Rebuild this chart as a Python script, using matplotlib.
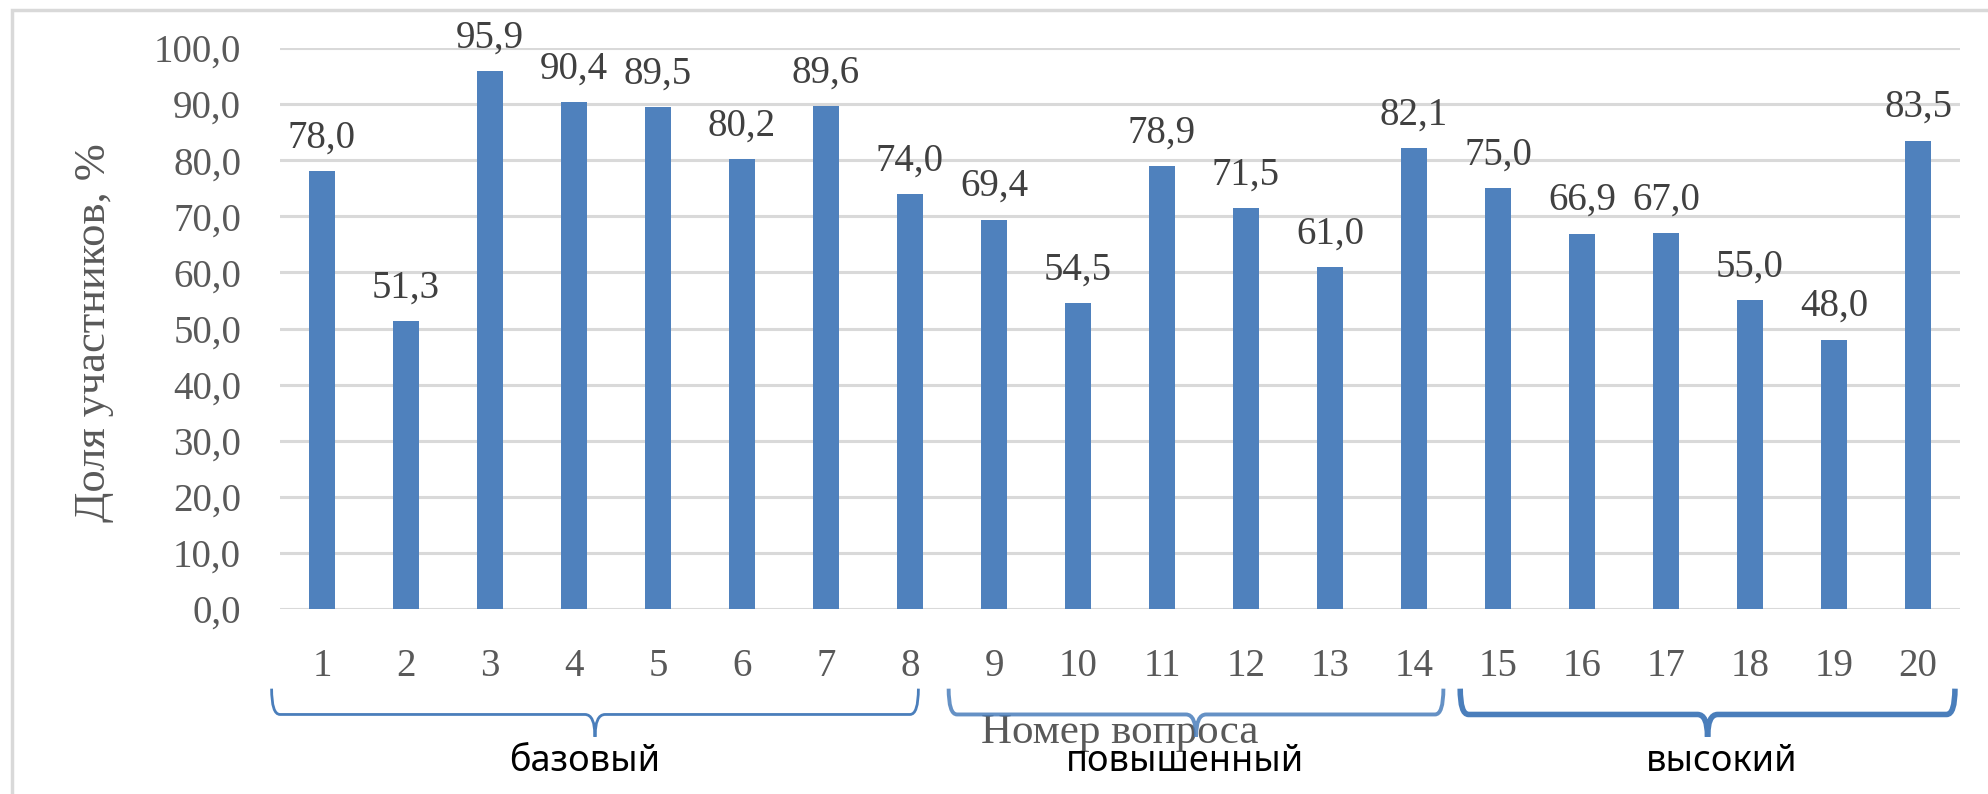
import numpy as np
import matplotlib
matplotlib.use("Agg")
import matplotlib.pyplot as plt
from matplotlib.path import Path
from matplotlib.patches import PathPatch, Rectangle

# question numbers and share of participants who solved them
questions = [str(i) for i in range(1, 21)]
shares = [78.0, 51.3, 95.9, 90.4, 89.5, 80.2, 89.6, 74.0, 69.4, 54.5,
          78.9, 71.5, 61.0, 82.1, 75.0, 66.9, 67.0, 55.0, 48.0, 83.5]

# difficulty levels under the axis
levels = ["базовый", "повышенный", "высокий"]
level_first = [0, 8, 14]   # index of first question in group
level_last = [7, 13, 19]   # index of last question in group

BAR = "#4F81BD"
BRACE = "#4A7EBB"
GRID = "#D9D9D9"
TXT = "#595959"

serif = ["Liberation Serif", "DejaVu Serif"]
sans = ["Noto Sans", "DejaVu Sans"]

fig = plt.figure(figsize=(19.88, 7.94), dpi=100)
ax = fig.add_axes([280 / 1988, 1 - 609 / 794, 1680 / 1988, 561 / 794])

x = np.arange(len(questions))
ax.bar(x, shares, width=0.32, color=BAR, zorder=3)

for xi, v in zip(x, shares):
    ax.annotate(f"{v:.1f}".replace(".", ","), (xi, v), xytext=(0, 17),
                textcoords="offset points", ha="center", va="baseline",
                fontsize=28, family=serif, color="#404040", zorder=4)

ax.set_xlim(-0.5, len(questions) - 0.5)
ax.set_ylim(0, 100)
ax.set_yticks(np.arange(0, 101, 10))
ax.set_yticklabels([f"{t:.1f}".replace(".", ",") for t in np.arange(0, 101, 10)])
ax.set_xticks(x)
ax.set_xticklabels(questions)
ax.grid(axis="y", color=GRID, linewidth=2.2, zorder=0)
ax.set_axisbelow(True)
for s in ax.spines.values():
    s.set_visible(False)
ax.tick_params(length=0, labelsize=28, colors=TXT)
ax.tick_params(axis="y", pad=28)
ax.tick_params(axis="x", pad=28)
for lab in ax.get_xticklabels() + ax.get_yticklabels():
    lab.set_family(serif)

ax.set_ylabel("Доля участников, %", fontsize=32, family=serif, color=TXT)
ax.yaxis.set_label_coords(-0.099, 0.492)
ax.set_xlabel("Номер вопроса", fontsize=31, family=serif, color=TXT)
ax.xaxis.set_label_coords(0.5, -0.186)

# braces under the groups (x in data units, y in data units below 0)
brace_pad = [(-0.6, 0.1), (-0.54, 0.35), (-0.45, 0.44)]
brace_lw = [2.0, 2.8, 4.0]
brace_alpha = [1.0, 0.85, 1.0]
text_shift = [-0.12, -0.13, 0.17]
y_top, y_mid, y_tip = -14.2, -18.8, -22.8
for name, i0, i1, (p0, p1), lw, al, dx in zip(levels, level_first, level_last,
                                               brace_pad, brace_lw, brace_alpha, text_shift):
    x0, x1 = i0 + p0, i1 + p1
    xm = (x0 + x1) / 2
    r, w = 0.1, 0.12
    verts = [(x0, y_top), (x0, y_mid), (x0 + r, y_mid),
             (xm - w, y_mid), (xm, y_mid), (xm, y_tip),
             (xm, y_mid), (xm + w, y_mid),
             (x1 - r, y_mid), (x1, y_mid), (x1, y_top)]
    codes = [Path.MOVETO, Path.CURVE3, Path.CURVE3,
             Path.LINETO, Path.CURVE3, Path.CURVE3,
             Path.CURVE3, Path.CURVE3,
             Path.LINETO, Path.CURVE3, Path.CURVE3]
    ax.add_patch(PathPatch(Path(verts, codes), fill=False, edgecolor=BRACE,
                           linewidth=lw, alpha=al, clip_on=False, capstyle="butt"))
    ax.text(xm + dx, -27.3, name, ha="center", va="center", fontsize=26,
            family=sans, color="black")

# chart frame
fig.patches.append(Rectangle((12 / 1988, -0.1), 1.2, 1 - 10 / 794 + 0.1,
                             transform=fig.transFigure, fill=False,
                             edgecolor=GRID, linewidth=2.5))

fig.savefig("out.png", dpi=100)
